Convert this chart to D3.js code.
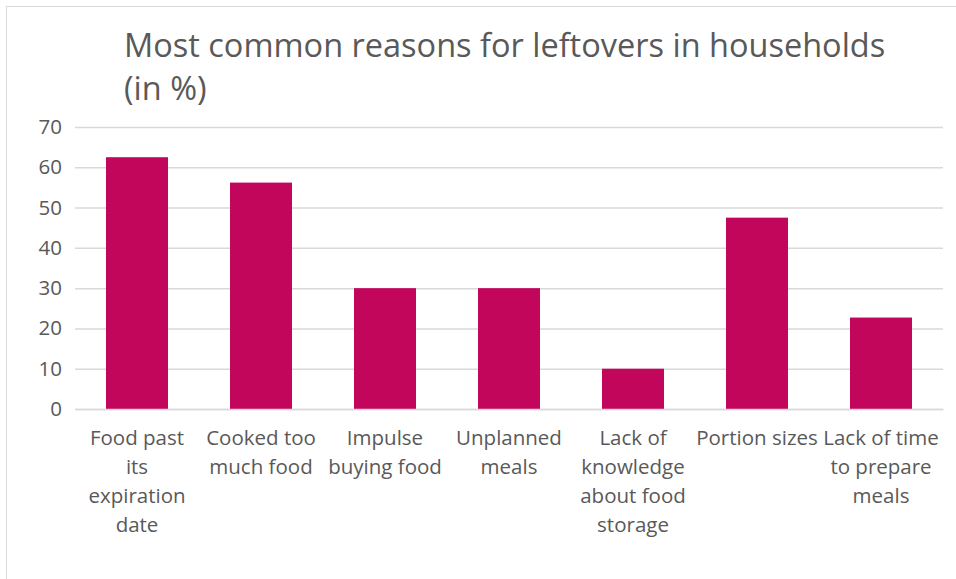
<!DOCTYPE html>
<html>
<head>
<meta charset="utf-8">
<script src="https://cdn.jsdelivr.net/npm/d3@7"></script>
<style>
  body { margin: 0; background: #fff; }
  svg { display: block; }
  svg text { font-family: "Open Sans", "Noto Sans", sans-serif; }
</style>
</head>
<body>
<svg id="vis"></svg>
<script>
// chart data
var categories = [
  "Food past its expiration date",
  "Cooked too much food",
  "Impulse buying food",
  "Unplanned meals",
  "Lack of knowledge about food storage",
  "Portion sizes",
  "Lack of time to prepare meals"
];
// how the category labels wrap under each bar
var categoryLines = [
  ["Food past", "its", "expiration", "date"],
  ["Cooked too", "much food"],
  ["Impulse", "buying food"],
  ["Unplanned", "meals"],
  ["Lack of", "knowledge", "about food", "storage"],
  ["Portion sizes"],
  ["Lack of time", "to prepare", "meals"]
];
var values = [62.5, 56.2, 30, 30, 10, 47.5, 22.7];
var yTicks = [0, 10, 20, 30, 40, 50, 60, 70];
var titleLines = ["Most common reasons for leftovers in households", "(in %)"];

var vWidth = 956, vHeight = 579;
var margin = {top: 127, right: 13, bottom: 170, left: 75};
var textColor = "#595959";
var labelSize = "20.5px";

var svg = d3.select("#vis")
  .attr("width", vWidth)
  .attr("height", vHeight);

// outer frame
svg.append("rect")
  .attr("x", 6.5).attr("y", 6.5)
  .attr("width", vWidth - 6).attr("height", vHeight - 6)
  .attr("fill", "#fff")
  .attr("stroke", "#d9d9d9");

var x = d3.scaleBand()
  .domain(categories)
  .range([margin.left, vWidth - margin.right])
  .paddingInner(0.5)
  .paddingOuter(0.25);

var y = d3.scaleLinear()
  .domain([0, 70])
  .range([vHeight - margin.bottom, margin.top]);

// title
svg.append("text")
  .attr("fill", textColor)
  .style("font-size", "32.5px")
  .selectAll("tspan")
  .data(titleLines)
  .enter().append("tspan")
  .attr("x", 124)
  .attr("y", function(d, i){ return 57 + i * 43 })
  .text(function(d){ return d });

// gridlines + y labels
var yAxis = svg.append("g")
  .attr("transform", "translate(" + margin.left + ",0)")
  .call(d3.axisLeft(y).tickValues(yTicks).tickSize(-(vWidth - margin.left - margin.right)).tickPadding(13));

yAxis.attr("font-family", null).attr("font-size", null);
yAxis.select(".domain").remove();
yAxis.selectAll(".tick line").attr("stroke", "#d9d9d9").attr("stroke-width", 1.5);
yAxis.selectAll(".tick text")
  .attr("fill", textColor)
  .style("font-size", labelSize);

// bars
svg.append("g")
  .selectAll("rect")
  .data(values)
  .enter().append("rect")
  .attr("x", function(d, i){ return x(categories[i]) })
  .attr("y", function(d){ return y(d) })
  .attr("width", x.bandwidth())
  .attr("height", function(d){ return y(0) - y(d) })
  .attr("fill", "#c2065c");

// category labels
var xAxis = svg.append("g")
  .attr("transform", "translate(0," + y(0) + ")")
  .call(d3.axisBottom(x).tickSize(0).tickFormat(""));
xAxis.attr("font-family", null).attr("font-size", null);
xAxis.select(".domain").attr("stroke", "#d9d9d9").attr("stroke-width", 1.5);

xAxis.selectAll(".tick text").remove();
xAxis.selectAll(".tick").each(function(d, i){
  var t = d3.select(this).append("text")
    .attr("fill", textColor)
    .attr("text-anchor", "middle")
    .style("font-size", labelSize);
  t.selectAll("tspan")
    .data(categoryLines[i])
    .enter().append("tspan")
    .attr("x", 0)
    .attr("y", function(l, j){ return 36 + j * 29 })
    .text(function(l){ return l });
});
</script>
</body>
</html>
